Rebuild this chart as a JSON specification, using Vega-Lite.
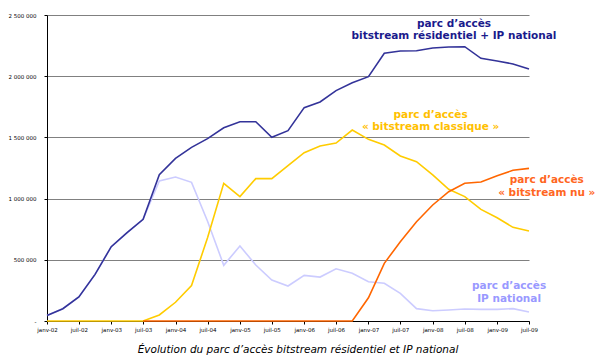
{
  "$schema": "https://vega.github.io/schema/vega-lite/v6.json",
  "width": 482,
  "height": 306,
  "autosize": {"type": "none"},
  "padding": {"left": 47, "top": 15, "right": 77, "bottom": 40},
  "background": "white",
  "config": {
    "view": {"stroke": null},
    "font": "DejaVu Sans",
    "locale": {"number": {"decimal": ",", "thousands": " ", "grouping": [3], "currency": ["", ""]}}
  },
  "title": {
    "text": "Évolution du parc d’accès bitstream résidentiel et IP national",
    "orient": "bottom",
    "anchor": "middle",
    "font": "DejaVu Sans",
    "fontSize": 10.5,
    "fontStyle": "italic",
    "fontWeight": "normal",
    "color": "#000000",
    "offset": 12,
    "dx": 10
  },
  "datasets": {
    "series": [
      {"date": "2002-01-01", "series": "ip", "value": 45000},
      {"date": "2002-04-01", "series": "ip", "value": 100000},
      {"date": "2002-07-01", "series": "ip", "value": 196000},
      {"date": "2002-10-01", "series": "ip", "value": 381000},
      {"date": "2003-01-01", "series": "ip", "value": 607000},
      {"date": "2003-04-01", "series": "ip", "value": 722000},
      {"date": "2003-07-01", "series": "ip", "value": 831000},
      {"date": "2003-10-01", "series": "ip", "value": 1144000},
      {"date": "2004-01-01", "series": "ip", "value": 1176000},
      {"date": "2004-04-01", "series": "ip", "value": 1133000},
      {"date": "2004-07-01", "series": "ip", "value": 815000},
      {"date": "2004-10-01", "series": "ip", "value": 455000},
      {"date": "2005-01-01", "series": "ip", "value": 613000},
      {"date": "2005-04-01", "series": "ip", "value": 457000},
      {"date": "2005-07-01", "series": "ip", "value": 335000},
      {"date": "2005-10-01", "series": "ip", "value": 286000},
      {"date": "2006-01-01", "series": "ip", "value": 373000},
      {"date": "2006-04-01", "series": "ip", "value": 359000},
      {"date": "2006-07-01", "series": "ip", "value": 427000},
      {"date": "2006-10-01", "series": "ip", "value": 390000},
      {"date": "2007-01-01", "series": "ip", "value": 321000},
      {"date": "2007-04-01", "series": "ip", "value": 308000},
      {"date": "2007-07-01", "series": "ip", "value": 226000},
      {"date": "2007-10-01", "series": "ip", "value": 101000},
      {"date": "2008-01-01", "series": "ip", "value": 84000},
      {"date": "2008-04-01", "series": "ip", "value": 90000},
      {"date": "2008-07-01", "series": "ip", "value": 98000},
      {"date": "2008-10-01", "series": "ip", "value": 95000},
      {"date": "2009-01-01", "series": "ip", "value": 95000},
      {"date": "2009-04-01", "series": "ip", "value": 101000},
      {"date": "2009-07-01", "series": "ip", "value": 74000},
      {"date": "2002-01-01", "series": "classique", "value": 0},
      {"date": "2002-04-01", "series": "classique", "value": 0},
      {"date": "2002-07-01", "series": "classique", "value": 0},
      {"date": "2002-10-01", "series": "classique", "value": 0},
      {"date": "2003-01-01", "series": "classique", "value": 0},
      {"date": "2003-04-01", "series": "classique", "value": 0},
      {"date": "2003-07-01", "series": "classique", "value": 0},
      {"date": "2003-10-01", "series": "classique", "value": 49000},
      {"date": "2004-01-01", "series": "classique", "value": 153000},
      {"date": "2004-04-01", "series": "classique", "value": 290000},
      {"date": "2004-07-01", "series": "classique", "value": 680000},
      {"date": "2004-10-01", "series": "classique", "value": 1125000},
      {"date": "2005-01-01", "series": "classique", "value": 1016000},
      {"date": "2005-04-01", "series": "classique", "value": 1163000},
      {"date": "2005-07-01", "series": "classique", "value": 1163000},
      {"date": "2005-10-01", "series": "classique", "value": 1269000},
      {"date": "2006-01-01", "series": "classique", "value": 1375000},
      {"date": "2006-04-01", "series": "classique", "value": 1430000},
      {"date": "2006-07-01", "series": "classique", "value": 1454000},
      {"date": "2006-10-01", "series": "classique", "value": 1560000},
      {"date": "2007-01-01", "series": "classique", "value": 1484000},
      {"date": "2007-04-01", "series": "classique", "value": 1438000},
      {"date": "2007-07-01", "series": "classique", "value": 1348000},
      {"date": "2007-10-01", "series": "classique", "value": 1302000},
      {"date": "2008-01-01", "series": "classique", "value": 1193000},
      {"date": "2008-04-01", "series": "classique", "value": 1076000},
      {"date": "2008-07-01", "series": "classique", "value": 1016000},
      {"date": "2008-10-01", "series": "classique", "value": 912000},
      {"date": "2009-01-01", "series": "classique", "value": 844000},
      {"date": "2009-04-01", "series": "classique", "value": 765000},
      {"date": "2009-07-01", "series": "classique", "value": 735000},
      {"date": "2003-07-01", "series": "nu", "value": 0},
      {"date": "2003-10-01", "series": "nu", "value": 0},
      {"date": "2004-01-01", "series": "nu", "value": 0},
      {"date": "2004-04-01", "series": "nu", "value": 0},
      {"date": "2004-07-01", "series": "nu", "value": 0},
      {"date": "2004-10-01", "series": "nu", "value": 0},
      {"date": "2005-01-01", "series": "nu", "value": 0},
      {"date": "2005-04-01", "series": "nu", "value": 0},
      {"date": "2005-07-01", "series": "nu", "value": 0},
      {"date": "2005-10-01", "series": "nu", "value": 0},
      {"date": "2006-01-01", "series": "nu", "value": 0},
      {"date": "2006-04-01", "series": "nu", "value": 0},
      {"date": "2006-07-01", "series": "nu", "value": 0},
      {"date": "2006-10-01", "series": "nu", "value": 0},
      {"date": "2007-01-01", "series": "nu", "value": 190000},
      {"date": "2007-04-01", "series": "nu", "value": 471000},
      {"date": "2007-07-01", "series": "nu", "value": 648000},
      {"date": "2007-10-01", "series": "nu", "value": 811000},
      {"date": "2008-01-01", "series": "nu", "value": 948000},
      {"date": "2008-04-01", "series": "nu", "value": 1056000},
      {"date": "2008-07-01", "series": "nu", "value": 1125000},
      {"date": "2008-10-01", "series": "nu", "value": 1136000},
      {"date": "2009-01-01", "series": "nu", "value": 1187000},
      {"date": "2009-04-01", "series": "nu", "value": 1231000},
      {"date": "2009-07-01", "series": "nu", "value": 1247000},
      {"date": "2002-01-01", "series": "total", "value": 45000},
      {"date": "2002-04-01", "series": "total", "value": 100000},
      {"date": "2002-07-01", "series": "total", "value": 196000},
      {"date": "2002-10-01", "series": "total", "value": 381000},
      {"date": "2003-01-01", "series": "total", "value": 607000},
      {"date": "2003-04-01", "series": "total", "value": 722000},
      {"date": "2003-07-01", "series": "total", "value": 831000},
      {"date": "2003-10-01", "series": "total", "value": 1195000},
      {"date": "2004-01-01", "series": "total", "value": 1329000},
      {"date": "2004-04-01", "series": "total", "value": 1419000},
      {"date": "2004-07-01", "series": "total", "value": 1490000},
      {"date": "2004-10-01", "series": "total", "value": 1579000},
      {"date": "2005-01-01", "series": "total", "value": 1628000},
      {"date": "2005-04-01", "series": "total", "value": 1628000},
      {"date": "2005-07-01", "series": "total", "value": 1501000},
      {"date": "2005-10-01", "series": "total", "value": 1555000},
      {"date": "2006-01-01", "series": "total", "value": 1743000},
      {"date": "2006-04-01", "series": "total", "value": 1789000},
      {"date": "2006-07-01", "series": "total", "value": 1882000},
      {"date": "2006-10-01", "series": "total", "value": 1947000},
      {"date": "2007-01-01", "series": "total", "value": 1996000},
      {"date": "2007-04-01", "series": "total", "value": 2187000},
      {"date": "2007-07-01", "series": "total", "value": 2206000},
      {"date": "2007-10-01", "series": "total", "value": 2208000},
      {"date": "2008-01-01", "series": "total", "value": 2230000},
      {"date": "2008-04-01", "series": "total", "value": 2239000},
      {"date": "2008-07-01", "series": "total", "value": 2241000},
      {"date": "2008-10-01", "series": "total", "value": 2146000},
      {"date": "2009-01-01", "series": "total", "value": 2124000},
      {"date": "2009-04-01", "series": "total", "value": 2100000},
      {"date": "2009-07-01", "series": "total", "value": 2059000}
    ],
    "labels": [
      {"date": "2008-05-01", "value": 2427000, "series": "total", "text": "parc d’accès"},
      {"date": "2008-05-01", "value": 2329000, "series": "total", "text": "bitstream résidentiel + IP national"},
      {"date": "2007-12-20", "value": 1683000, "series": "classique", "text": "parc d’accès"},
      {"date": "2007-12-20", "value": 1585000, "series": "classique", "text": "« bitstream classique »"},
      {"date": "2009-10-10", "value": 1152000, "series": "nu", "text": "parc d’accès"},
      {"date": "2009-10-10", "value": 1046000, "series": "nu", "text": "« bitstream nu »"},
      {"date": "2009-03-10", "value": 286000, "series": "ip", "text": "parc d’accès"},
      {"date": "2009-03-10", "value": 180000, "series": "ip", "text": "IP national"}
    ]
  },
  "encoding": {
    "x": {
      "field": "date",
      "type": "temporal",
      "scale": {"type": "utc", "domain": [1009843200000, 1246406400000]},
      "axis": {
        "title": null,
        "grid": false,
        "domainColor": "#000000",
        "domainWidth": 1,
        "tickColor": "#000000",
        "tickSize": 3,
        "labelFontSize": 5.5,
        "labelColor": "#000000",
        "labelPadding": 3,
        "labelFont": "DejaVu Sans",
        "labelFlush": false,
        "labelOverlap": false,
        "values": [1009843200000, 1025481600000, 1041379200000, 1057017600000, 1072915200000, 1088640000000, 1104537600000, 1120176000000, 1136073600000, 1151712000000, 1167609600000, 1183248000000, 1199145600000, 1214870400000, 1230768000000, 1246406400000],
        "labelExpr": "(utcFormat(datum.value, '%m') == '01' ? 'janv-' : 'juil-') + utcFormat(datum.value, '%y')"
      }
    },
    "y": {
      "field": "value",
      "type": "quantitative",
      "scale": {"domain": [0, 2500000], "nice": false},
      "axis": {
        "title": null,
        "values": [0, 500000, 1000000, 1500000, 2000000, 2500000],
        "grid": true,
        "gridColor": "#808080",
        "gridWidth": 1,
        "domainColor": "#000000",
        "domainWidth": 1,
        "tickColor": "#000000",
        "tickSize": 3,
        "labelFontSize": 5.5,
        "labelColor": "#000000",
        "labelPadding": 8,
        "labelFont": "DejaVu Sans",
        "labelFlush": false,
        "labelExpr": "datum.value == 0 ? '-' : format(datum.value, ',d')"
      }
    }
  },
  "resolve": {"scale": {"color": "independent"}},
  "layer": [
    {
      "data": {"name": "series"},
      "mark": {"type": "line", "strokeWidth": 1.6, "clip": false},
      "encoding": {
        "color": {
          "field": "series",
          "type": "nominal",
          "scale": {
            "domain": ["ip", "classique", "nu", "total"],
            "range": ["#CCCCFF", "#FFCC00", "#FF6600", "#333399"]
          },
          "legend": null
        }
      }
    },
    {
      "data": {"name": "labels"},
      "mark": {"type": "text", "fontWeight": "bold", "fontSize": 10.5, "font": "DejaVu Sans", "align": "center", "baseline": "middle", "clip": false},
      "encoding": {
        "text": {"field": "text"},
        "color": {
          "field": "series",
          "type": "nominal",
          "scale": {
            "domain": ["ip", "classique", "nu", "total"],
            "range": ["#9999FF", "#FFC000", "#FF6622", "#1A1A8C"]
          },
          "legend": null
        }
      }
    }
  ]
}
